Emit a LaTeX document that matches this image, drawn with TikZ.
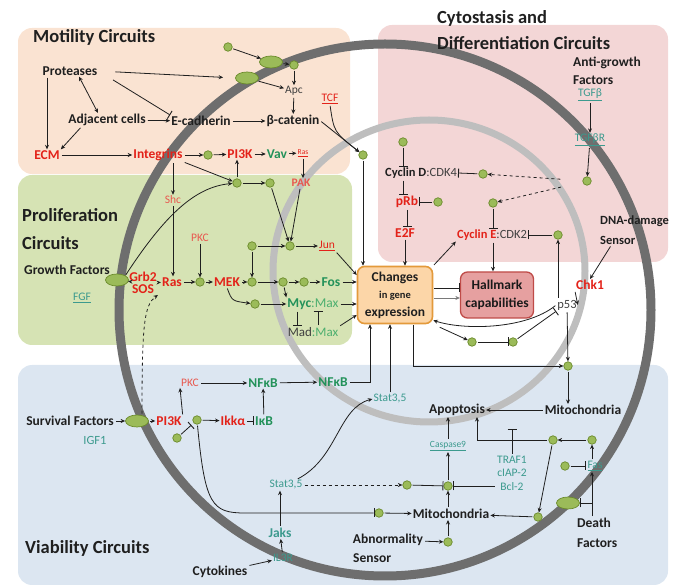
\documentclass[tikz,border=0pt]{standalone}
\usepackage{fontspec}
\setmainfont{Carlito}
\usepackage{xcolor}
\usetikzlibrary{positioning, arrows.meta, shapes.geometric}

\definecolor{motfill}{HTML}{FAE3D2}
\definecolor{cytfill}{HTML}{F3D6D6}
\definecolor{profill}{HTML}{D6E3B4}
\definecolor{viafill}{HTML}{DCE6F1}
\definecolor{outerring}{HTML}{6E6E6E}
\definecolor{innerring}{HTML}{BEBEBE}
\definecolor{molfill}{HTML}{9BBB59}
\definecolor{molline}{HTML}{6A8A2A}
\definecolor{txt}{HTML}{1F1F1F}
\definecolor{genered}{HTML}{E32219}
\definecolor{salmon}{HTML}{E8594F}
\definecolor{tfgreen}{HTML}{23925A}
\definecolor{tflight}{HTML}{4DAF6F}
\definecolor{tealtxt}{HTML}{3C9A8E}
\definecolor{dgray}{HTML}{404040}
\definecolor{chgfill}{HTML}{FCD6A8}
\definecolor{chgline}{HTML}{E39A3B}
\definecolor{hallfill}{HTML}{E6A0A0}
\definecolor{hallline}{HTML}{BF4B48}

\begin{document}
\begin{tikzpicture}[
    x=1pt, y=-1pt,
    circuit/.style={font=\fontsize{18.5}{21}\selectfont\bfseries, text=txt, inner sep=0pt, anchor=west},
    lbl/.style={font=\fontsize{13.5}{18}\selectfont\bfseries, text=txt, inner sep=1pt},
    onco/.style={font=\fontsize{13.5}{12}\selectfont\bfseries, text=genered, inner sep=1pt},
    tf/.style={font=\fontsize{13.5}{15}\selectfont\bfseries, text=tfgreen, inner sep=1pt},
    minor/.style={font=\fontsize{11.5}{13.5}\selectfont, text=dgray, inner sep=1pt},
    mol/.style={circle, draw=molline, fill=molfill, line width=0.7pt, minimum size=8.5pt, inner sep=0pt},
    rcpt/.style={ellipse, draw=molline, fill=molfill, line width=0.7pt, minimum width=23pt, minimum height=12pt, inner sep=0pt},
    ring/.style={line width=#1},
    arrow/.style={-{Stealth[length=4.5pt, width=4pt]}, line width=0.8pt, draw=txt, shorten <=1pt},
    darrow/.style={{Stealth[length=4.5pt, width=4pt]}-{Stealth[length=4.5pt, width=4pt]}, line width=0.8pt, draw=txt},
    inhib/.style={-{Bar[width=9pt, line width=0.9pt]}, line width=0.8pt, draw=txt, shorten <=1pt}
]
    \useasboundingbox (0,0) rectangle (673,585);

    % Regions
    \fill[motfill, rounded corners=14pt] (18,28) rectangle (350,174);
    \fill[cytfill, rounded corners=14pt] (378,25) rectangle (668,262);
    \fill[profill, rounded corners=14pt] (18,175) rectangle (352,345);
    \fill[viafill, rounded corners=14pt] (18,365) rectangle (668,585);

    % Membrane and nucleus
    \draw[outerring, ring=9pt] (385,310) circle [radius=266];
    \draw[innerring, ring=7pt] (429,271) ellipse [x radius=156, y radius=151];

    % Circuit titles
    \node[circuit] (tmot) at (33,37) {Motility Circuits};
    \node[circuit] (tcyt1) at (437,18) {Cytostasis and};
    \node[circuit] (tcyt2) at (437,43) {Differentiation Circuits};
    \node[circuit] (tpro1) at (22,215) {Proliferation};
    \node[circuit] (tpro2) at (22,243) {Circuits};
    \node[circuit] (tvia) at (25,548) {Viability Circuits};

    % Motility nodes
    \node[lbl] (prot) at (70,71) {Proteases};
    \node[lbl] (adj) at (107,120) {Adjacent cells};
    \node[lbl] (ecad) at (201,121) {E-cadherin};
    \node[lbl] (bcat) at (293,121) {β-catenin};
    \node[onco] (ecm) at (47,155) {ECM};
    \node[onco] (integ) at (158,155) {Integrins};
    \node[mol] (m1) at (208,155) {};
    \node[onco] (pi3ka) at (240,154) {PI3K};
    \node[tf] (vav) at (277,154) {Vav};
    \node[onco, font=\fontsize{7.5}{8}\selectfont] (rasa) at (303,153) {\underline{Ras}};
    \node[minor] (apc) at (294,91) {Apc};
    \node[minor, text=genered] (tcf) at (330,99) {\underline{TCF}};
    \node[mol] (m2) at (228,47) {};
    \node[rcpt] (r1) at (271,62) {};
    \node[mol] (m3) at (294,65) {};
    \node[rcpt] (r2) at (247,78) {};
    \node[mol] (m4) at (237,183) {};
    \node[mol] (m5) at (270,183) {};
    \node[minor, text=salmon, font=\fontsize{11.5}{13}\selectfont\bfseries] (pak) at (301,183) {PAK};
    \node[minor, text=salmon] (shc) at (173,200) {Shc};
    \node[mol] (m6) at (363,155) {};

    % Proliferation nodes
    \node[rcpt] (rgf) at (117,280) {};
    \node[lbl] (gf) at (67,270) {Growth Factors};
    \node[minor, text=tealtxt] (fgf) at (82,298) {\underline{FGF}};
    \node[onco, align=center] (grb) at (143,283) {Grb2\\SOS};
    \node[onco] (ras) at (172,282) {Ras};
    \node[minor, text=salmon] (pkca) at (200,238) {PKC};
    \node[mol] (m7) at (200,282) {};
    \node[onco] (mek) at (227,282) {MEK};
    \node[mol] (m8) at (252,282) {};
    \node[mol] (m9) at (283,282) {};
    \node[mol] (m10) at (304,282) {};
    \node[tf] (fos) at (331,282) {Fos};
    \node[mol] (m11) at (252,246) {};
    \node[mol] (m12) at (290,246) {};
    \node[minor, text=genered] (jun) at (327,246) {\underline{Jun}};
    \node[mol] (m13) at (255,304) {};
    \node[tf] (myc) at (313,304) {Myc{\mdseries\color{tflight}:Max}};
    \node[lbl, font=\fontsize{13}{15}\selectfont] (mad) at (313,332) {{\color{dgray}Mad}{\color{tflight}:Max}};

    % Gene expression and hallmarks
    \node[draw=chgline, fill=chgfill, line width=1.6pt, rounded corners=7pt, minimum width=75pt,
          minimum height=57pt, align=center, inner sep=1pt, text=txt,
          font=\fontsize{13.5}{17.5}\selectfont\bfseries] (chg) at (395,295)
          {Changes\\{\fontsize{10.5}{17.5}\selectfont in gene}\\expression};
    \node[draw=hallline, fill=hallfill, line width=1.3pt, rounded corners=7pt, minimum width=73pt,
          minimum height=46pt, align=center, inner sep=1pt, text=txt!85!black,
          font=\fontsize{13.5}{18}\selectfont\bfseries] (hall) at (497,295) {Hallmark\\capabilities};

    % Cytostasis nodes
    \node[lbl, align=left, anchor=west] (antig) at (572,71) {Anti-growth\\Factors};
    \node[minor, text=tealtxt] (tgfb) at (590,95) {\underline{TGFβ}};
    \node[minor, text=tealtxt] (tgfr) at (590,140) {\underline{TGFβR}};
    \node[mol] (m14) at (587,181) {};
    \node[mol] (m15) at (483,174) {};
    \node[minor, text=dgray, font=\fontsize{12.5}{14}\selectfont] (cycd) at (421,173) {{\bfseries\color{txt}Cyclin D}:CDK4};
    \node[mol] (m16) at (403,142) {};
    \node[onco] (prb) at (407,202) {pRb};
    \node[mol] (m17) at (438,202) {};
    \node[onco] (e2f) at (405,233) {E2F};
    \node[mol] (m18) at (493,203) {};
    \node[minor, text=dgray, font=\fontsize{12.5}{14}\selectfont] (cyce) at (492,235) {{\bfseries\color{genered}Cyclin E}:CDK2};
    \node[mol] (m19) at (558,235) {};
    \node[minor, font=\fontsize{12.5}{14}\selectfont] (p53) at (567,305) {p53};
    \node[onco] (chk) at (590,285) {Chk1};
    \node[lbl, align=left, anchor=west, font=\fontsize{12.5}{20}\selectfont\bfseries] (dna) at (599,230) {DNA-damage\\Sensor};
    \node[mol] (m20) at (472,342) {};
    \node[mol] (m21) at (513,342) {};
    \node[mol] (m22) at (568,366) {};

    % Viability nodes
    \node[lbl] (surv) at (70,421) {Survival Factors};
    \node[minor, text=tealtxt, font=\fontsize{12.5}{14}\selectfont] (igf) at (95,440) {IGF1};
    \node[rcpt] (rsf) at (137,421) {};
    \node[onco] (pi3kb) at (169,421) {PI3K};
    \node[minor, text=salmon] (pkcb) at (190,383) {PKC};
    \node[tf] (nfa) at (263,383) {NFκB};
    \node[tf] (nfb) at (333,382) {NFκB};
    \node[mol] (m23) at (197,420) {};
    \node[mol] (m24) at (177,438) {};
    \node[onco] (ikk) at (233,421) {Ikkα};
    \node[tf] (ikb) at (264,421) {IκB};
    \node[minor, text=tealtxt] (stata) at (390,399) {Stat3,5};
    \node[minor, text=tealtxt] (statb) at (286,485) {Stat3,5};
    \node[tf, text=tealtxt] (jaks) at (280,533) {Jaks};
    \node[minor, text=tealtxt] (rec) at (283,558) {IL3R};
    \node[lbl] (cyto) at (220,572) {Cytokines};
    \node[lbl] (apop) at (457,410) {Apoptosis};
    \node[lbl] (mitoa) at (583,410) {Mitochondria};
    \node[minor, text=tealtxt, font=\fontsize{9.5}{11}\selectfont] (casp) at (448,446) {\underline{Caspase9}};
    \node[mol] (m25) at (407,485) {};
    \node[mol] (m26) at (448,486) {};
    \node[minor, text=tealtxt, align=center] (bcl) at (512,473) {TRAF1\\cIAP-2\\Bcl-2};
    \node[mol] (m27) at (379,513) {};
    \node[lbl] (mitob) at (451,514) {Mitochondria};
    \node[lbl] (abn) at (388,540) {Abnormality};
    \node[lbl, anchor=west] (abns) at (352,558) {Sensor};
    \node[mol] (m28) at (448,542) {};
    \node[mol] (m29) at (553,440) {};
    \node[mol] (m30) at (592,440) {};
    \node[minor, text=tealtxt] (fas) at (595,466) {\underline{Fas}};
    \node[mol] (m31) at (565,466) {};
    \node[rcpt] (rdf) at (568,503) {};
    \node[lbl, align=left, anchor=west, font=\fontsize{13.5}{20}\selectfont\bfseries] (death) at (576,533) {Death\\Factors};
    \node[mol] (m32) at (538,517) {};
    \coordinate (trafbar) at (512,429);
    \coordinate (dfjoin) at (593,503);

    % Motility connectors
    \draw[arrow] (m2) -- (r1);
    \draw[arrow] (r1) -- (m3);
    \draw[arrow] (m3) -- (apc);
    \draw[arrow] (r2) -- (apc);
    \draw[arrow] (apc) -- (bcat);
    \draw[arrow, shorten <=17pt, shorten >=12pt] (prot.east) -- (r2.west);
    \draw[inhib, shorten <=17pt] (prot.east) -- (ecad.north west);
    \draw[darrow] ([xshift=9pt]prot.south) -- ([xshift=-9pt]adj.north);
    \draw[arrow] (ecm |- prot.south) -- (ecm);
    \draw[arrow] ([xshift=14pt]adj.south west) -- (ecm.north east);
    \draw[arrow] (adj) -- (ecad);
    \draw[arrow] (ecad) -- (bcat);
    \draw[arrow] (bcat.east) -- (m6);
    \draw[arrow] (tcf.south) .. controls (334,132) .. (m6);
    \draw[arrow] (ecm) -- (integ);
    \draw[arrow] (integ) -- (m1);
    \draw[arrow] (m1) -- (pi3ka);
    \draw[arrow] (pi3ka) -- (vav);
    \draw[arrow] (vav) -- (rasa);
    \draw[arrow] (integ.south east) -- (m4);
    \draw[arrow] (integ.south -| shc) -- (shc);
    \draw[arrow] (m4) -- (m4 |- pi3ka.south);
    \draw[arrow] (m4) -- (m5);
    \draw[arrow] (rasa) -- (rasa |- pak.north);

    % Proliferation connectors
    \draw[arrow] (rgf) -- (grb);
    \draw[arrow] (rgf.north east) .. controls (165,215) and (195,187) .. (m4);
    \draw[arrow] (grb) -- (ras);
    \draw[arrow] (ras) -- (m7);
    \draw[arrow] (m7) -- (mek);
    \draw[arrow] (mek) -- (m8);
    \draw[arrow] (m8) -- (m9);
    \draw[arrow] (m9) -- (m10);
    \draw[arrow] (m10) -- (fos);
    \draw[arrow] (shc) -- (shc |- ras.north);
    \draw[arrow] (pkca) -- (m7);
    \draw[arrow] (m11) -- (m8);
    \draw[arrow] (m11) -- (m12);
    \draw[arrow] (m12) -- (jun);
    \draw[arrow] (m5) -- (m12);
    \draw[arrow] (pak) -- (m12);
    \draw[arrow] (mek.south) .. controls (232,301) .. (m13);
    \draw[arrow] (m13) -- (myc);
    \draw[arrow] (m9) -- (myc.north west);
    \draw[inhib] ([xshift=-16pt]myc.south) -- ([xshift=-16pt]mad.north);
    \draw[inhib] ([xshift=5pt]mad.north) -- ([xshift=5pt]myc.south);
    \draw[arrow] (jun.south east) -- ([yshift=20pt]chg.west);
    \draw[arrow] (fos) -- ([yshift=13pt]chg.west);
    \draw[arrow] (myc) -- ([yshift=-9pt]chg.west);
    \draw[arrow] (mad.north east) -- ([yshift=-20pt]chg.west);
    \draw[arrow, dashed] ([xshift=5pt]rsf.north) .. controls (142,325) and (144,305) .. (grb.south east);

    % Gene expression connectors
    \draw[arrow] (m6) -- (m6 |- chg.north);
    \draw[arrow] (e2f) -- (e2f |- chg.north);
    \draw[inhib] ([yshift=7pt]chg.east) -- ([yshift=7pt]hall.west);
    \draw[arrow, draw=txt!60, line width=0.5pt] ([yshift=-3pt]chg.east) -- ([yshift=-3pt]hall.west);
    \draw[arrow] (chg.north east) -- (cyce.south west);
    \draw[arrow] (m18 |- cyce.south) -- (m18 |- hall.north);
    \draw[arrow] (p53.west) .. controls (525,330) and (462,330) .. ([yshift=4pt]chg.south east);
    \draw[arrow, shorten <=7pt] (chg.south east) -- (m20);
    \draw[inhib] (m20) -- (m21);
    \draw[inhib] (m21) -- (p53.south west);
    \draw[arrow] ([xshift=18pt]chg.south) |- (m22);
    \draw[arrow] (nfb.east) -| ([xshift=-25pt]chg.south);
    \draw[arrow] (stata) -- (stata |- chg.south);

    % Cytostasis connectors
    \draw[arrow] (tgfb) -- (tgfr);
    \draw[arrow] (tgfr) -- (m14);
    \draw[arrow, dashed, shorten <=22pt] (m14) -- (m15);
    \draw[arrow, dashed, shorten <=22pt] (m14) -- (m18);
    \draw[inhib] (m15) -- (cycd.east);
    \draw[inhib] (m16) -- (m16 |- cycd.north);
    \draw[inhib] (m16 |- cycd.south) -- (m16 |- prb.north);
    \draw[inhib] (m17) -- (prb);
    \draw[inhib] (prb) -- (prb |- e2f.north);
    \draw[inhib] (m18) -- (m18 |- cyce.north);
    \draw[inhib] (m19) -- (cyce.east);
    \draw[arrow] (m19 |- p53.north) -- (m19);
    \draw[arrow] ([xshift=12pt]dna.south west) -- (chk.north);
    \draw[arrow] (chk.south west) -- (p53.east);
    \draw[arrow] (p53) -- (m22);

    % Viability connectors
    \draw[arrow] (surv) -- (rsf);
    \draw[arrow] (rsf) -- (pi3kb);
    \draw[arrow] (pi3kb.north east) -- (pkcb.south west);
    \draw[arrow] (pkcb) -- (nfa);
    \draw[arrow] (nfa) -- (nfb);
    \draw[arrow] (m23) -- (ikk);
    \draw[inhib] (ikk) -- (ikb);
    \draw[arrow] (ikb) -- (nfa);
    \draw[inhib, shorten >=3pt] (m24) -- (m23);
    \draw[inhib] (m23) .. controls (205,505) and (212,513) .. (245,513) -- (m27);
    \draw[arrow] (m27) -- (mitob);
    \draw[arrow] (statb) .. controls (338,458) and (338,408) .. (stata.west);
    \draw[arrow] (jaks) -- (jaks |- statb.south);
    \draw[arrow] (rec) -- (jaks);
    \draw[arrow] (cyto) -- (rec);
    \draw[arrow, dashed] (statb) -- (m25);
    \draw[inhib] (m25) -- (m26);
    \draw[inhib] (bcl.west |- m26) -- (m26);
    \draw[arrow] (m26) -- (casp);
    \draw[arrow] (casp) -- (casp |- apop.south);
    \draw[arrow] (m26 |- mitob.north) -- (m26);
    \draw[arrow] (m28) -- (m28 |- mitob.south);
    \draw[arrow] (abn) -- (m28);
    \draw[arrow] (mitoa) -- (apop);
    \draw[arrow] (m22) -- (m22 |- mitoa.north);
    \draw[arrow] (m30) -- (m29);
    \draw[arrow] (m30 |- fas.north) -- (m30);
    \draw[inhib] (m31) -- (fas);
    \draw[arrow] (m29) -| ([xshift=20pt]apop.south);
    \draw[inhib] (bcl.north) -- (trafbar);
    \draw[arrow] (m29) -- (m32);
    \draw[arrow] (m32) -- (mitob);
    \draw[arrow] (m30 |- death.north) -- (m30 |- fas.south);
    \draw[inhib] (dfjoin) -- (rdf);

\end{tikzpicture}
\end{document}
